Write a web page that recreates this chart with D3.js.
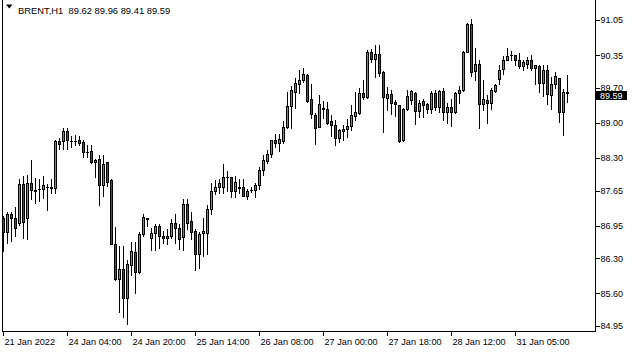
<!DOCTYPE html>
<html><head><meta charset="utf-8">
<script src="https://cdn.jsdelivr.net/npm/d3@7"></script>
<style>
html,body{margin:0;padding:0;background:#fff;}
svg{display:block;font-family:"Liberation Sans",Arial,sans-serif;}
</style></head>
<body>
<svg id="c" width="635" height="352"></svg>
<script>
const symbol = "BRENT,H1";
const lastOHLC = [89.62, 89.96, 89.41, 89.59];
const opens = [87.11,86.83,87.19,87.11,87.01,87.79,87.11,87.81,87.66,87.68,87.69,87.73,87.72,87.71,88.63,88.63,88.83,88.64,88.64,88.65,
88.61,88.42,88.43,88.21,88.27,87.77,88.21,87.87,86.59,85.89,86.09,85.51,86.17,86.43,86.02,86.79,87.11,86.70,86.81,86.95,
86.75,86.70,86.75,87.01,86.91,86.72,87.39,87.05,86.85,86.39,86.81,86.81,87.29,87.64,87.73,87.73,87.93,87.93,87.64,87.72,
87.73,87.55,87.66,87.67,87.77,88.06,88.24,88.38,88.65,88.60,88.64,88.92,89.33,89.62,89.78,89.86,89.96,89.48,89.15,88.92,
89.30,89.28,89.03,88.96,88.70,88.84,88.87,88.93,89.13,89.19,89.59,89.51,90.42,90.28,90.37,90.02,89.50,89.57,89.42,89.35,
88.65,89.27,89.45,89.60,89.23,89.43,89.38,89.27,89.60,89.32,89.63,89.22,89.31,89.22,89.60,89.65,90.42,90.98,90.04,90.17,
89.38,89.46,89.40,89.64,89.88,90.08,90.26,90.35,90.35,90.26,90.14,90.18,90.25,90.10,90.13,89.80,90.06,89.55,89.77,89.90,
89.22,89.62];
const highs = [87.15,87.23,87.23,87.33,87.89,87.95,87.97,88.25,87.91,87.88,87.95,87.79,87.88,88.65,88.69,88.89,88.89,88.73,88.75,88.74,
88.65,88.55,88.55,88.27,88.35,88.35,88.22,87.89,86.93,86.55,86.55,86.27,86.63,86.63,86.83,87.19,87.11,86.91,86.99,86.99,
86.85,86.89,87.09,87.19,86.99,87.49,87.49,87.23,86.89,86.83,87.11,87.37,87.81,87.87,87.88,88.17,88.03,87.93,87.95,87.89,
87.88,87.69,87.72,87.81,88.11,88.35,88.45,88.65,88.77,88.77,89.03,89.62,89.73,89.89,90.06,90.10,89.98,89.78,89.19,89.55,
89.44,89.42,89.15,89.05,88.88,88.95,89.07,89.35,89.62,89.70,89.85,90.45,90.47,90.55,90.55,90.04,89.72,89.65,89.46,89.35,
89.29,89.65,89.66,89.61,89.45,89.48,89.39,89.63,89.65,89.65,89.70,89.39,89.48,89.62,89.73,90.44,91.00,91.06,90.49,90.25,
89.85,89.55,89.70,89.77,90.15,90.33,90.50,90.44,90.35,90.39,90.25,90.31,90.35,90.16,90.15,90.16,90.16,89.92,90.02,89.90,
89.67,89.96];
const lows = [86.45,86.61,86.65,86.75,86.97,86.71,86.69,87.49,87.41,87.44,87.51,87.27,87.61,87.60,88.47,88.47,88.47,88.51,88.55,88.55,
88.31,88.31,88.20,87.93,87.36,87.55,87.75,86.58,85.87,85.23,85.13,84.99,85.97,85.61,86.01,86.74,86.95,86.46,86.47,86.51,
86.61,86.59,86.71,86.61,86.49,86.47,86.89,86.69,86.07,86.11,86.35,86.39,87.19,87.59,87.60,87.60,87.64,87.53,87.53,87.60,
87.54,87.49,87.62,87.53,87.69,87.97,88.19,88.31,88.51,88.44,88.60,88.89,88.89,89.29,89.60,89.82,89.42,89.10,88.58,88.91,
89.10,88.98,88.73,88.55,88.62,88.65,88.72,88.85,89.05,89.18,89.48,89.50,90.21,89.92,89.93,88.82,89.26,89.17,89.13,88.61,
88.63,89.25,89.37,88.97,89.12,89.12,89.19,89.19,89.26,89.22,89.05,88.99,88.93,89.20,89.40,89.64,90.41,89.93,89.85,88.90,
89.25,88.99,89.28,89.62,89.78,89.98,90.25,90.26,90.15,90.10,90.06,90.10,90.06,89.77,89.62,89.53,89.37,89.28,89.70,89.02,
88.75,89.41];
const closes = [86.83,87.19,87.11,86.91,87.79,87.03,87.81,87.67,87.64,87.68,87.77,87.73,87.70,88.63,88.58,88.83,88.65,88.63,88.64,88.60,
88.41,88.41,88.21,88.26,87.77,88.17,87.83,86.59,85.89,86.09,85.51,86.19,86.45,86.03,86.79,87.13,87.09,86.81,86.95,86.74,
86.70,86.75,87.01,86.91,86.69,87.39,87.01,86.83,86.39,86.79,86.84,87.29,87.65,87.73,87.80,87.93,87.93,87.65,87.83,87.71,
87.55,87.65,87.67,87.77,88.05,88.26,88.38,88.65,88.60,88.68,88.92,89.33,89.65,89.80,89.86,89.98,89.44,89.18,88.90,89.37,
89.27,88.99,88.96,88.70,88.85,88.87,88.93,89.16,89.22,89.59,89.51,90.42,90.28,90.37,89.99,89.52,89.57,89.40,89.37,88.64,
89.28,89.53,89.63,89.23,89.40,89.36,89.27,89.60,89.32,89.63,89.22,89.32,89.22,89.60,89.65,90.42,90.98,90.02,90.17,89.38,
89.48,89.40,89.66,89.75,90.06,90.26,90.33,90.35,90.25,90.13,90.21,90.26,90.10,90.15,89.80,90.06,89.57,89.77,89.93,89.22,
89.62,89.59];
const priceTicks = [91.05, 90.35, 89.70, 89.00, 88.30, 87.65, 86.95, 86.30, 85.60, 84.95];
const timeLabels = ["21 Jan 2022","24 Jan 04:00","24 Jan 20:00","25 Jan 14:00","26 Jan 08:00","27 Jan 00:00","27 Jan 18:00","28 Jan 12:00","31 Jan 05:00"];
const timeLabelBars = [0,16,32,48,64,80,96,112,128];

const bars = opens.map((o,i)=>({i, o, h:highs[i], l:lows[i], c:closes[i]}));

const svg = d3.select("#c");
const x = d3.scaleLinear().domain([0, 141]).range([3, 567]);
const y = d3.scaleLinear().domain([84.95, 91.05]).range([326, 20]);
const up = "#3cb43c", down = "#d21414";

// frame
const frame = svg.append("g").attr("stroke","#000").attr("stroke-width",1).attr("shape-rendering","crispEdges");
frame.append("line").attr("x1",2.5).attr("x2",2.5).attr("y1",0).attr("y2",331.5);
frame.append("line").attr("x1",2.5).attr("x2",595.5).attr("y1",331.5).attr("y2",331.5);

// candles
const g = svg.append("g").attr("shape-rendering","crispEdges");
const cg = g.selectAll("g.c").data(bars).join("g");
cg.append("rect")
  .attr("x", d=>Math.round(x(d.i)))
  .attr("width",1)
  .attr("y", d=>Math.round(y(d.h)))
  .attr("height", d=>Math.max(1, Math.round(y(d.l))-Math.round(y(d.h))+1))
  .attr("fill","#000");
cg.append("rect")
  .attr("x", d=>Math.round(x(d.i))-1)
  .attr("width",3)
  .attr("y", d=>Math.round(y(Math.max(d.o,d.c))))
  .attr("height", d=>Math.round(y(Math.min(d.o,d.c)))-Math.round(y(Math.max(d.o,d.c)))+1)
  .attr("fill","#000");
cg.filter(d=>Math.round(y(Math.min(d.o,d.c)))-Math.round(y(Math.max(d.o,d.c)))>1)
  .append("rect")
  .attr("x", d=>Math.round(x(d.i)))
  .attr("width",1)
  .attr("y", d=>Math.round(y(Math.max(d.o,d.c)))+1)
  .attr("height", d=>Math.round(y(Math.min(d.o,d.c)))-Math.round(y(Math.max(d.o,d.c)))-1)
  .attr("fill", d=>d.c>=d.o?up:down);

// right axis
const ya = svg.append("g").attr("transform","translate(595.5,0)")
  .call(d3.axisRight(y).tickValues(priceTicks).tickFormat(d3.format(".2f")).tickSize(4).tickPadding(1));
ya.select(".domain").attr("d","M0,0V331.5").attr("stroke","#000");
ya.selectAll(".tick line").attr("stroke","#000").attr("shape-rendering","crispEdges");
ya.selectAll(".tick text").attr("font-family","Liberation Sans, Arial, sans-serif").attr("font-size",9).attr("fill","#000");
ya.attr("shape-rendering","crispEdges");

// bottom axis
const xa = svg.append("g").attr("transform","translate(0,331.5)");
const xt = xa.selectAll("g").data(timeLabelBars).join("g")
  .attr("transform", d=>`translate(${Math.round(x(d))+0.5},0)`);
xt.append("line").attr("y1",0).attr("y2",4).attr("stroke","#000").attr("shape-rendering","crispEdges");
xt.append("text").attr("x",1).attr("y",13.5).attr("font-size",9.2).attr("fill","#000")
  .text((d,k)=>timeLabels[k]);

// last price box
const last = closes[closes.length-1];
const ly = y(last);
svg.append("rect").attr("x",596).attr("y",Math.round(ly)-2).attr("width",31).attr("height",9).attr("fill","#000");
svg.append("text").attr("x",600).attr("y",Math.round(ly)+5.5).attr("font-size",9).attr("fill","#fff").text(d3.format(".2f")(last));

// header
svg.append("path").attr("d","M6,4.5L12.5,4.5L9.25,8.5Z").attr("fill","#000");
svg.append("text").attr("x",18).attr("y",14).attr("font-size",9.4).attr("fill","#000")
  .style("white-space","pre")
  .text(symbol + "  " + lastOHLC.map(d3.format(".2f")).join(" "));
</script>
</body></html>
